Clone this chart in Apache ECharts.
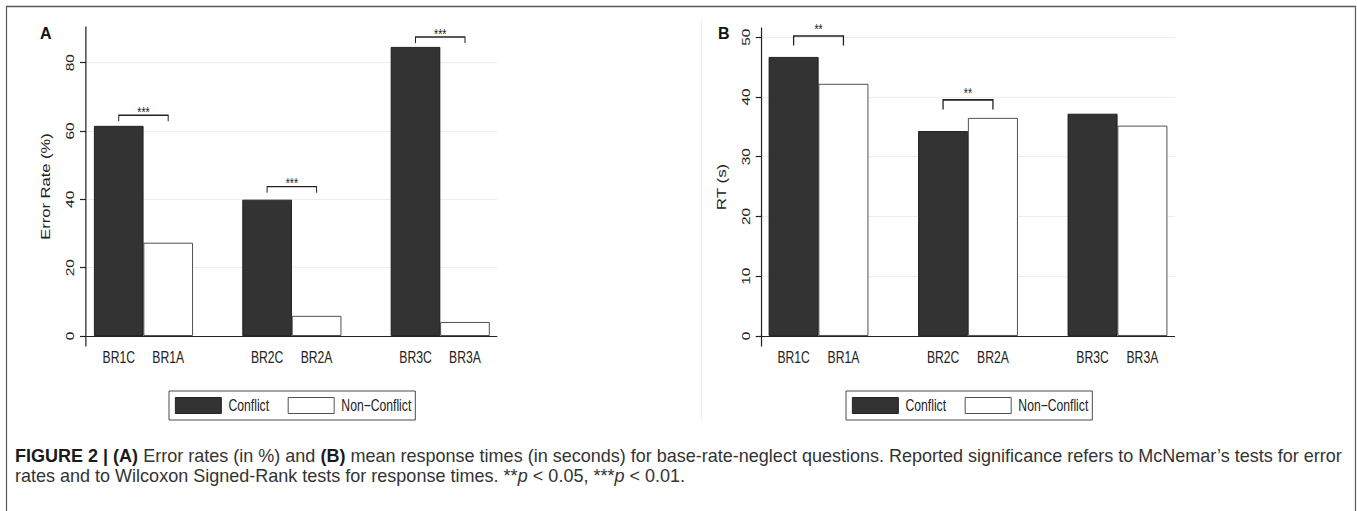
<!DOCTYPE html>
<html><head><meta charset="utf-8">
<script src="https://cdn.jsdelivr.net/npm/echarts@6/dist/echarts.min.js"></script>
<style>
html,body{margin:0;padding:0;background:#fff;overflow:hidden;width:1357px;height:511px}
#c{height:511px;transform-origin:0 0}
</style>
</head><body><div id="c"></div>
<script>
// ---- data ----
const conflictLabels = ['BR1C', 'BR2C', 'BR3C'];
const nonConflictLabels = ['BR1A', 'BR2A', 'BR3A'];
const errorConflict = [61.5, 39.9, 84.6];
const errorNonConflict = [27.3, 5.9, 4.1];
const rtConflict = [46.7, 34.3, 37.2];
const rtNonConflict = [42.2, 36.5, 35.2];
const errorTicks = [0, 20, 40, 60, 80];
const rtTicks = [0, 10, 20, 30, 40, 50];
const errorSigPairs = [['BR1C', 'BR1A'], ['BR2C', 'BR2A'], ['BR3C', 'BR3A']];
const errorSigY = [64.6, 43.7, 87.5];
const errorSigText = ['***', '***', '***'];
const rtSigPairs = [['BR1C', 'BR1A'], ['BR2C', 'BR2A']];
const rtSigY = [50.2, 39.5];
const rtSigText = ['**', '**'];
const seriesNames = ['Conflict', 'Non-Conflict'];
const panelLetters = ['A', 'B'];
const axisTitles = ['Error Rate (%)', 'RT (s)'];
const captionLine1 = '{b|FIGURE 2 | (A)} Error rates (in %) and {b|(B)} mean response times (in seconds) for base-rate-neglect questions. Reported significance refers to McNemar\u2019s tests for error';
const captionLine2 = 'rates and to Wilcoxon Signed-Rank tests for response times. **{i|p} < 0.05, ***{i|p} < 0.01.';

// ---- the reference figure is horizontally compressed; draw wide and compress ----
const SX = 0.76;
const W = Math.round(1357 / SX);
const X = px => px / SX;
const box = document.getElementById('c');
box.style.width = W + 'px';
box.style.transform = 'scaleX(' + SX + ')';

// ---- slot axis: two bars per group, one empty slot between groups ----
const slots = [];
conflictLabels.forEach((c, i) => {
  slots.push(c, nonConflictLabels[i]);
  if (i < conflictLabels.length - 1) slots.push(' '.repeat(i + 1));
});
function slotData(labels, values) {
  return slots.map(s => { const k = labels.indexOf(s); return k >= 0 ? values[k] : '-'; });
}
function sigData(pairs, ys) {
  return pairs.map((p, i) => [slots.indexOf(p[0]), slots.indexOf(p[1]), ys[i]]);
}

const SANS = "'Liberation Sans', Arial, Helvetica, sans-serif";
const INK = '#222';
const DARK = { color: '#333333', borderColor: '#151515', borderWidth: 1 };
const LIGHT = { color: '#ffffff', borderColor: '#3a3a3a', borderWidth: 1 };

const panels = [
  { frameLeft: 86, frameRight: 497, barLeft: 94, barRight: 489.7, top: 27, bottom: 346,
    min: -2.93, max: 90.43, ticks: errorTicks, c: errorConflict, n: errorNonConflict,
    sig: sigData(errorSigPairs, errorSigY), sigText: errorSigText, tick: 6, starGap: 3, lw: 1.3,
    nameSize: 16.5, legendLeft: 169, letterX: 40 },
  { frameLeft: 761.7, frameRight: 1174.7, barLeft: 768.7, barRight: 1167.3, top: 28, bottom: 346,
    min: -1.68, max: 51.54, ticks: rtTicks, c: rtConflict, n: rtNonConflict,
    sig: sigData(rtSigPairs, rtSigY), sigText: rtSigText, tick: 9.5, starGap: 6.5, lw: 1.7,
    nameSize: 17, legendLeft: 846, letterX: 718 }
];

const grid = [], xAxis = [], yAxis = [], series = [], legend = [], graphic = [];
panels.forEach((p, pi) => {
  grid.push({ left: X(p.frameLeft), width: X(p.frameRight - p.frameLeft), top: p.top, height: p.bottom - p.top });
  grid.push({ left: X(p.barLeft), width: X(p.barRight - p.barLeft), top: p.top, height: p.bottom - p.top });
  const gF = pi * 2, gB = pi * 2 + 1;
  xAxis.push({ type: 'value', gridIndex: gF, min: 0, max: 1,
    axisLine: { show: true, lineStyle: { color: INK, width: 1.2 } },
    axisTick: { show: false }, axisLabel: { show: false }, splitLine: { show: false } });
  xAxis.push({ type: 'category', gridIndex: gB, data: slots, boundaryGap: true,
    axisLine: { show: false }, axisTick: { show: false },
    axisLabel: { interval: 0, margin: 3, fontFamily: SANS, fontSize: 16, color: INK } });
  yAxis.push({ type: 'value', gridIndex: gF, min: p.min, max: p.max,
    name: axisTitles[pi], nameLocation: 'middle', nameRotate: 90, nameGap: 45,
    nameTextStyle: { fontFamily: SANS, fontSize: p.nameSize, color: INK },
    axisLine: { show: true, lineStyle: { color: INK, width: 1.6 } },
    axisTick: { show: true, length: X(6), customValues: p.ticks, lineStyle: { color: INK, width: 1.2 } },
    axisLabel: { customValues: p.ticks, rotate: 90, margin: 13, fontFamily: SANS, fontSize: 15.5, color: INK },
    splitLine: { show: true, lineStyle: { color: '#e6eef0', width: 1.2 } } });
  yAxis.push({ type: 'value', gridIndex: gB, min: p.min, max: p.max, show: false });

  series.push({ type: 'bar', name: seriesNames[0], xAxisIndex: gB, yAxisIndex: gB,
    data: slotData(conflictLabels, p.c), barGap: '-100%', barCategoryGap: '0%',
    itemStyle: DARK, silent: true });
  series.push({ type: 'bar', name: seriesNames[1], xAxisIndex: gB, yAxisIndex: gB,
    data: slotData(nonConflictLabels, p.n), barGap: '-100%', barCategoryGap: '0%',
    itemStyle: LIGHT, silent: true });
  const sigText = p.sigText, tick = p.tick, starGap = p.starGap, lw = p.lw;
  series.push({ type: 'custom', xAxisIndex: gB, yAxisIndex: gB, data: p.sig, silent: true, z: 5,
    renderItem: function (params, api) {
      const a = api.coord([api.value(0), api.value(2)]);
      const b = api.coord([api.value(1), api.value(2)]);
      return { type: 'group', children: [
        { type: 'polyline', shape: { points: [[a[0], a[1] + tick], [a[0], a[1]], [b[0], b[1]], [b[0], b[1] + tick]] },
          style: { stroke: INK, lineWidth: lw, fill: null } },
        { type: 'text', x: (a[0] + b[0]) / 2, y: a[1] - starGap,
          style: { text: sigText[params.dataIndex], align: 'center', verticalAlign: 'middle',
                   font: '14px ' + SANS, fill: INK } }
      ] };
    } });

  legend.push({ left: X(p.legendLeft), top: 391, orient: 'horizontal', itemWidth: X(46), itemHeight: 16,
    itemGap: X(18.7), padding: [6, X(4), 6, X(6)], borderColor: '#333', borderWidth: 1, selectedMode: false,
    formatter: name => ' ' + name.replace('-', '\u2212'),
    textStyle: { fontFamily: SANS, fontSize: 16, color: INK },
    data: [
      { name: seriesNames[0], icon: 'rect', itemStyle: DARK },
      { name: seriesNames[1], icon: 'rect', itemStyle: LIGHT }
    ] });

  graphic.push({ type: 'text', x: X(p.letterX), y: 25.5, scaleX: 1 / SX,
    style: { text: panelLetters[pi], font: 'bold 16px ' + SANS, fill: '#111', verticalAlign: 'top' } });
});

// frame and panel separator
graphic.push({ type: 'rect', shape: { x: X(6.5), y: 6.5, width: X(1349), height: 530 },
  style: { fill: null, stroke: '#5a5a5a', lineWidth: 1.6 }, silent: true });
graphic.push({ type: 'line', shape: { x1: X(701.5), y1: 20, x2: X(701.5), y2: 420 },
  style: { stroke: '#ececec', lineWidth: 1.2 }, silent: true });

// caption (typeset at normal proportions)
const CAP_SX = 1.03 / SX;
graphic.push({ type: 'text', x: X(15), y: 447.5, scaleX: CAP_SX, style: {
  text: captionLine1, font: '17.5px ' + SANS, fill: '#333', verticalAlign: 'top',
  rich: { b: { fontWeight: 'bold', fontFamily: SANS, fontSize: 17.5, fill: '#1a1a1a' } } } });
graphic.push({ type: 'text', x: X(15), y: 467.5, scaleX: CAP_SX, style: {
  text: captionLine2, font: '17.5px ' + SANS, fill: '#333', verticalAlign: 'top',
  rich: { i: { fontStyle: 'italic', fontFamily: SANS, fontSize: 17.5, fill: '#333' } } } });

const chart = echarts.init(box, null, { renderer: 'svg', width: W, height: 511 });
chart.setOption({ animation: false, backgroundColor: '#fff', grid, xAxis, yAxis, series, legend, graphic });
</script></body></html>
